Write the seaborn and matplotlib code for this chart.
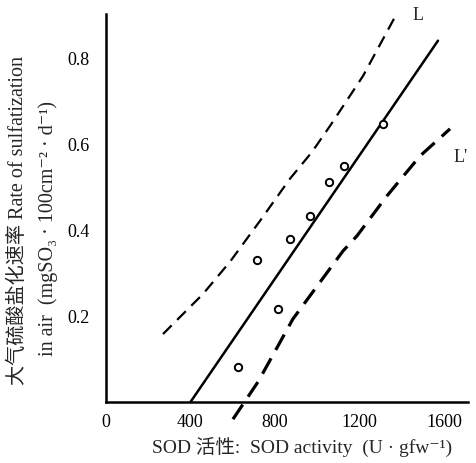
import matplotlib
matplotlib.use("Agg")
import matplotlib.pyplot as plt
import seaborn as sns
import pandas as pd

# Data
sod = [626, 715, 814, 871, 968, 1054, 1129, 1313]
rate = [0.081, 0.330, 0.216, 0.379, 0.433, 0.512, 0.549, 0.647]

fit_x = [400, 1572]
fit_y = [0.0, 0.840]

upper_x = [270, 459, 587, 729, 871, 975, 1061, 1217, 1368]
upper_y = [0.158, 0.251, 0.326, 0.421, 0.519, 0.581, 0.642, 0.758, 0.895]

lower_x = [601, 720, 885, 1122, 1188, 1330, 1487, 1629]
lower_y = [-0.040, 0.047, 0.193, 0.351, 0.386, 0.479, 0.572, 0.635]

x_ticks = [0, 400, 800, 1200, 1600]
y_ticks = [0.2, 0.4, 0.6, 0.8]

sns.set_style("white")
FAM = ['Liberation Serif', 'DejaVu Serif', 'Noto Sans CJK SC']
plt.rcParams['font.family'] = FAM

W, H = 476, 464
fig = plt.figure(figsize=(W / 100, H / 100), dpi=100)
ax = fig.add_axes([106 / W, 61 / H, (468 - 106) / W, (403 - 15) / H])

pts = pd.DataFrame({"x": sod, "y": rate})
sns.scatterplot(data=pts, x="x", y="y", ax=ax, marker="o", s=28,
                facecolor="white", edgecolor="black", linewidth=1.4, zorder=4)

sns.lineplot(x=fit_x, y=fit_y, ax=ax, color="black", linewidth=1.8,
             estimator=None, sort=False)
sns.lineplot(x=upper_x, y=upper_y, ax=ax, color="black", linewidth=1.6,
             estimator=None, sort=False)
ax.lines[-1].set_dashes([5.5, 3.5])
sns.lineplot(x=lower_x, y=lower_y, ax=ax, color="black", linewidth=2.3,
             estimator=None, sort=False)
ax.lines[-1].set_dashes([5.5, 3])
for ln in ax.lines:
    ln.set_clip_on(False)

ax.set_xlim(0, 1714)
ax.set_ylim(0, 0.902)
ax.set_xticks(x_ticks)
ax.set_xticklabels([str(v) for v in x_ticks], family=FAM)
ax.set_yticks(y_ticks)
ax.set_yticklabels([f"{v:.1f}" for v in y_ticks], family=FAM)
ax.set_xlabel("")
ax.set_ylabel("")

for s in ["top", "right"]:
    ax.spines[s].set_visible(False)
for s in ["left", "bottom"]:
    ax.spines[s].set_linewidth(1.8)
    ax.spines[s].set_color("black")

ax.tick_params(axis="both", direction="in", length=5, width=1.5,
               labelsize=13, colors="black")
ax.tick_params(axis="y", pad=12)
ax.tick_params(axis="x", pad=8)

ax.text(1450, 0.9, "L", fontsize=13, ha="left", va="center")
ax.text(1645, 0.57, "L'", fontsize=13, ha="left", va="center")

fig.text(302 / W, 1 - 447 / H, "SOD 活性:  SOD activity  (U · gfw⁻¹)",
         fontsize=14, ha="center", va="center")
fig.text(18 / W, 1 - 221 / H, "大气硫酸盐化速率 Rate of sulfatization",
         fontsize=14.5, rotation=90, ha="center", va="center")
fig.text(48 / W, 1 - 228 / H, "in air  (mgSO₃ · 100cm⁻² · d⁻¹)",
         fontsize=14.5, rotation=90, ha="center", va="center")

fig.savefig("out.png", dpi=100)
